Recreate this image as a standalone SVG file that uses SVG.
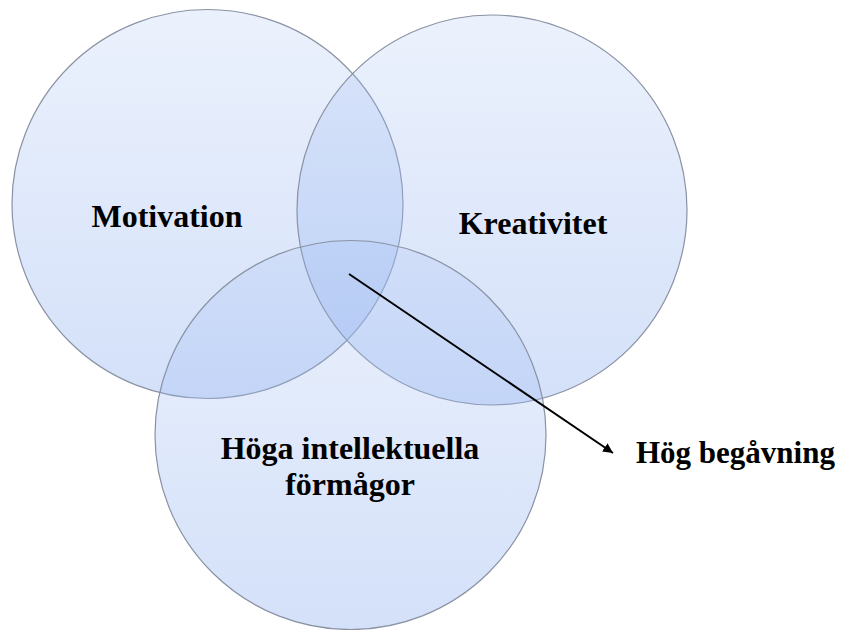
<svg xmlns="http://www.w3.org/2000/svg" width="841" height="630" viewBox="0 0 841 630">
<style>
.c{fill:url(#g);stroke:#8a92a3;stroke-width:1.2}
.t{font-family:"Liberation Serif","Times New Roman",serif;font-weight:bold;font-size:32px;fill:#000}
</style>
<defs>
<linearGradient id="g" x1="0" y1="0" x2="0" y2="1">
<stop offset="0" stop-color="#9dbaf2" stop-opacity="0.2"/>
<stop offset="1" stop-color="#9dbaf2" stop-opacity="0.44"/>
</linearGradient>
<marker id="ah" viewBox="0 0 10 10" refX="10" refY="5" markerWidth="10" markerHeight="10" markerUnits="userSpaceOnUse" orient="auto">
<path d="M0,0 L10,5 L0,10 z" fill="#000"/>
</marker>
</defs>
<rect width="841" height="630" fill="#fff"/>
<g id="motivation">
<ellipse class="c" cx="207.5" cy="204" rx="195.5" ry="194.5"/>
<text class="t" x="167" y="227" text-anchor="middle">Motivation</text>
</g>
<g id="kreativitet">
<ellipse class="c" cx="492" cy="210" rx="195" ry="195"/>
<text class="t" x="533" y="234" text-anchor="middle">Kreativitet</text>
</g>
<g id="intellekt">
<ellipse class="c" cx="350.5" cy="435" rx="195.5" ry="194.5"/>
<text class="t" x="350" y="459" text-anchor="middle">Höga intellektuella</text>
<text class="t" x="350" y="495" text-anchor="middle">förmågor</text>
</g>
<g id="connectors">
<line x1="349" y1="274" x2="613" y2="453" stroke="#000" stroke-width="2" marker-end="url(#ah)"/>
</g>
<g id="hog-begavning">
<text class="t" x="636" y="463" style="font-size:31px">Hög begåvning</text>
</g>
</svg>
